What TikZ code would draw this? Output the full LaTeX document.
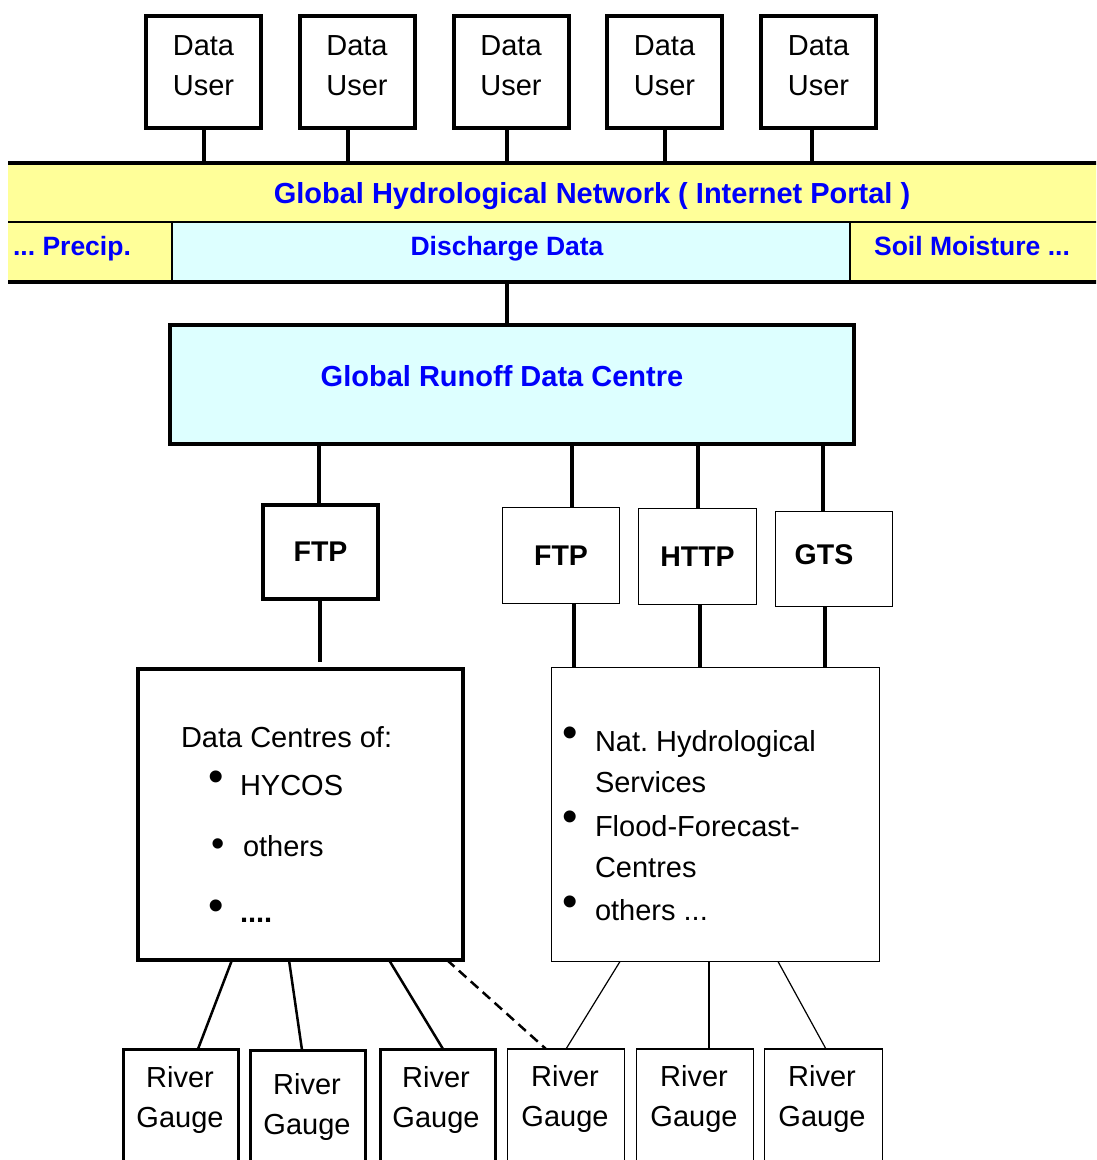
\documentclass[tikz,border=0pt]{standalone}
\usepackage{fontspec}
\setmainfont{Liberation Sans}
\definecolor{bandyellow}{RGB}{255,255,153}
\definecolor{bandcyan}{RGB}{221,255,255}
\definecolor{txtblue}{RGB}{0,0,250}
\frenchspacing
\begin{document}
\begin{tikzpicture}[x=1pt,y=-1pt,
  every node/.style={inner sep=0pt, outer sep=0pt},
  reg/.style={font=\fontsize{29}{40}\selectfont, align=center},
  regl/.style={font=\fontsize{29}{40}\selectfont, anchor=base west},
  bul/.style={font=\fontsize{44}{44}\selectfont},
  bld/.style={font=\bfseries\fontsize{28.5}{34}\selectfont},
  bluebig/.style={font=\bfseries\fontsize{29}{34}\selectfont, text=txtblue},
  bluesmall/.style={font=\bfseries\fontsize{26.5}{32}\selectfont, text=txtblue, anchor=base},
  thickbox/.style={draw, line width=4pt},
  gthick/.style={draw, line width=3pt},
  thinbox/.style={draw, line width=1.2pt},
  conn/.style={line width=3.5pt},
  conntwo/.style={line width=2.5pt},
  connthree/.style={line width=1.2pt}
]
\fill[white] (0,0) rectangle (1096,1160);
\useasboundingbox (0,0) rectangle (1096,1160);
\clip (0,0) rectangle (1096,1160);

% bands
\node[fill=bandyellow, minimum width=1092pt, minimum height=59pt] (ghn) at (554,192.5) {};
\node[fill=bandyellow, minimum width=164pt, minimum height=60pt] (precip) at (90,252) {};
\node[fill=bandcyan, minimum width=678pt, minimum height=60pt] (disc) at (511,252) {};
\node[fill=bandyellow, minimum width=250pt, minimum height=60pt] (soil) at (975,252) {};
\node[bluebig, anchor=base] (ghnt) at (592,203.5) {Global Hydrological Network ( Internet Portal )};
\node[bluesmall] (precipt) at (72,255.5) {... Precip.};
\node[bluesmall] (disct) at (507,255.5) {Discharge Data};
\node[bluesmall] (soilt) at (972,255.5) {Soil Moisture ...};

% data users
\foreach \n/\cx in {1/203.5,2/357,3/511,4/664.5,5/818.5} {
  \node[thickbox, minimum width=115pt, minimum height=112pt] (du\n) at (\cx,72) {};
  \node[reg] (dut\n) at (\cx,66) {Data\\User};
}
\foreach \n/\lx in {1/204,2/348,3/507,4/665,5/812}
  \draw[conn] (\lx,0 |- du\n.south) -- (\lx,0 |- ghn.north);

\draw[line width=4pt] (ghn.north west) -- (ghn.north east);
\draw[line width=2.5pt] (ghn.south west) -- (ghn.south east);
\draw[line width=4pt] (precip.south west) -- (soil.south east);
\draw[line width=2pt] (disc.north west) -- (disc.south west) (disc.north east) -- (disc.south east);

% GRDC
\node[thickbox, fill=bandcyan, minimum width=684pt, minimum height=119pt] (grdc) at (512,384.5) {};
\node[bluebig] (grdct) at (502,376) {Global Runoff Data Centre};
\draw[conn] (507,0 |- disc.south) -- (507,0 |- grdc.north);

% protocols
\node[thickbox, minimum width=115pt, minimum height=94pt, bld] (ftpa) at (320.5,552) {FTP};
\node[thinbox, minimum width=117pt, minimum height=96pt, bld] (ftpb) at (561,555.5) {FTP};
\node[thinbox, minimum width=118pt, minimum height=96pt, bld] (http) at (697.5,556.5) {HTTP};
\node[thinbox, minimum width=117pt, minimum height=95pt] (gts) at (834,559) {};
\node[bld] (gtst) at (824,555) {GTS};
\draw[conn] (319,0 |- grdc.south) -- (319,0 |- ftpa.north);
\draw[conn] (572,0 |- grdc.south) -- (572,0 |- ftpb.north);
\draw[conn] (698,0 |- grdc.south) -- (698,0 |- http.north);
\draw[conn] (823,0 |- grdc.south) -- (823,0 |- gts.north);

% data centres
\node[thickbox, minimum width=325pt, minimum height=291pt] (dca) at (300.5,814.5) {};
\node[thinbox, minimum width=328pt, minimum height=294pt] (dcb) at (715.5,814.5) {};
\draw[conn, shorten >=7pt] (320,0 |- ftpa.south) -- (320,0 |- dca.north);
\draw[conn] (574,0 |- ftpb.south) -- (574,0 |- dcb.north);
\draw[conn] (700,0 |- http.south) -- (700,0 |- dcb.north);
\draw[conn] (825,0 |- gts.south) -- (825,0 |- dcb.north);

\node[regl] (dcat) at (181,747) {Data Centres of:};
\node[bul] (ba1) at (216,781) {•};
\node[regl] (ba1t) at (240,795) {HYCOS};
\node[bul, font=\fontsize{38}{38}\selectfont] (ba2) at (218,848) {•};
\node[regl] (ba2t) at (243,856) {others};
\node[bul] (ba3) at (216,910) {•};
\node[regl, font=\bfseries\fontsize{29}{40}\selectfont] (ba3t) at (240,922) {....};

\node[bul] (bb1) at (570,737) {•};
\node[bul] (bb2) at (570,821) {•};
\node[bul] (bb3) at (570,906) {•};
\node[regl] (bb1t) at (595,751) {Nat. Hydrological};
\node[regl] (bb1u) at (595,792) {Services};
\node[regl] (bb2t) at (595,836) {Flood-Forecast-};
\node[regl] (bb2u) at (595,877) {Centres};
\node[regl] (bb3t) at (595,920) {others ...};

% river gauges
\foreach \n/\cx/\cy/\tx/\ty/\st/\w in {1/181/1115/180/1100/gthick/115,2/308/1116/307/1107/gthick/115,3/438/1115/436/1100/gthick/115,4/566/1115/565/1099/thinbox/117,5/695/1115/694/1099/thinbox/117,6/823.5/1115/822/1099/thinbox/118} {
  \node[\st, minimum width=\w pt, minimum height=132pt] (rg\n) at (\cx,\cy) {};
  \node[reg] (rgt\n) at (\tx,\ty) {River\\Gauge};
}
\draw[conntwo] (232,0 |- dca.south) -- (198,0 |- rg1.north);
\draw[conntwo] (289,0 |- dca.south) -- (302,0 |- rg2.north);
\draw[conntwo] (389,0 |- dca.south) -- (443,0 |- rg3.north);
\draw[conntwo, dash pattern=on 10pt off 6pt] (447,0 |- dca.south) -- (546,0 |- rg4.north);
\draw[connthree] (620,0 |- dcb.south) -- (566,0 |- rg4.north);
\draw[connthree] (709,0 |- dcb.south) -- (709,0 |- rg5.north);
\draw[connthree] (778,0 |- dcb.south) -- (826,0 |- rg6.north);
\end{tikzpicture}
\end{document}
